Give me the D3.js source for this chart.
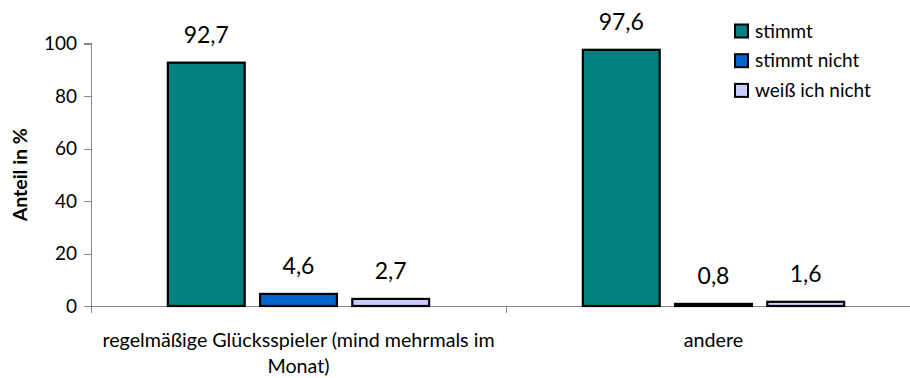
<!DOCTYPE html>
<html><head><meta charset="utf-8">
<script src="https://cdn.jsdelivr.net/npm/d3@7"></script>
<style>
html,body{margin:0;padding:0;background:#fff;}
svg{display:block;font-family:Lato, "Open Sans", sans-serif;}
</style></head>
<body>
<svg id="chart" width="910" height="378"></svg>
<script>
const categories = ["regelmäßige Glücksspieler (mind mehrmals im Monat)", "andere"];
const categoryLines = [["regelmäßige Glücksspieler (mind mehrmals im", "Monat)"], ["andere"]];
const seriesNames = ["stimmt", "stimmt nicht", "weiß ich nicht"];
const stimmt = [92.7, 97.6];
const stimmtNicht = [4.6, 0.8];
const weissNicht = [2.7, 1.6];
const seriesValues = [stimmt, stimmtNicht, weissNicht];
const seriesColors = ["#008080", "#0066CC", "#CCCCFF"];
const yTicks = [0, 20, 40, 60, 80, 100];
const yTitle = "Anteil in %";

const svg = d3.select("#chart");
const left = 91, right = 921, y0 = 306, yTop = 43.5;

const x0 = d3.scaleBand().domain(categories).range([left, right]).paddingInner(0).paddingOuter(0);
const bw = x0.bandwidth();
const w = bw / 5.4;
const x1 = d3.scaleBand().domain(seriesNames).range([w, 4.4 * w]).paddingInner(1/6).paddingOuter(0);
const y = d3.scaleLinear().domain([0, 100]).range([y0, yTop]);

const fmt = v => String(v).replace(".", ",");

// axes
const axisColor = "#868686";
const yAxis = svg.append("g").attr("transform", `translate(${left},0)`)
  .call(d3.axisLeft(y).tickValues(yTicks).tickSize(7).tickPadding(7).tickFormat(d3.format("d")));
yAxis.select(".domain").attr("d", `M-7,${y(100)}H0V${y0 + 7}`);
const xAxis = svg.append("g").attr("transform", `translate(0,${y0})`)
  .call(d3.axisBottom(x0).tickSize(7).tickFormat(""));
xAxis.selectAll(".tick").remove();
xAxis.select(".domain").attr("d", `M${left - 7},0H${right}`);
const xTickPos = [left, x0(categories[1]), right];
xAxis.selectAll("line.t").data(xTickPos).enter().append("line").attr("class","t")
  .attr("x1", d => d).attr("x2", d => d).attr("y1", 0).attr("y2", 7);
svg.selectAll(".domain, .tick line, line.t").attr("stroke", axisColor).attr("stroke-width", 1).attr("shape-rendering","crispEdges");
yAxis.selectAll(".tick text").attr("font-size", 19).attr("fill", "#000").attr("font-family", "Lato");

// bars
const groups = svg.append("g").selectAll("g").data(categories).enter().append("g")
  .attr("transform", d => `translate(${x0(d)},0)`);
groups.each(function(cat, ci) {
  const g = d3.select(this);
  seriesNames.forEach((s, si) => {
    const v = seriesValues[si][ci];
    g.append("rect").attr("x", x1(s)).attr("width", x1.bandwidth())
      .attr("y", y(v)).attr("height", y0 - y(v))
      .attr("fill", seriesColors[si]).attr("stroke", "#000").attr("stroke-width", 2.2);
    g.append("text").attr("x", x1(s) + x1.bandwidth() / 2).attr("y", y(v) - 20)
      .attr("text-anchor", "middle").attr("font-size", 23).attr("fill", "#000").text(fmt(v));
  });
});

// x labels
categories.forEach((c, ci) => {
  const cx = x0(c) + bw / 2;
  categoryLines[ci].forEach((line, li) => {
    svg.append("text").attr("x", cx).attr("y", 347 + li * 25.5).attr("text-anchor", "middle")
      .attr("font-size", 19.7).attr("fill", "#000").text(line);
  });
});

// y title
svg.append("text").attr("transform", `translate(27,${(y0 + yTop) / 2}) rotate(-90)`)
  .attr("text-anchor", "middle").attr("font-size", 19.5).attr("font-weight", "bold").attr("fill", "#000").text(yTitle);

// legend
const leg = svg.append("g");
seriesNames.forEach((s, i) => {
  const cy = 31 + i * 29.7;
  leg.append("rect").attr("x", 735).attr("y", cy - 6.5).attr("width", 13).attr("height", 13)
    .attr("fill", seriesColors[i]).attr("stroke", "#000").attr("stroke-width", 2);
  leg.append("text").attr("x", 755).attr("y", cy + 6.5).attr("font-size", 19).attr("fill", "#000").text(s);
});
</script>
</body></html>
